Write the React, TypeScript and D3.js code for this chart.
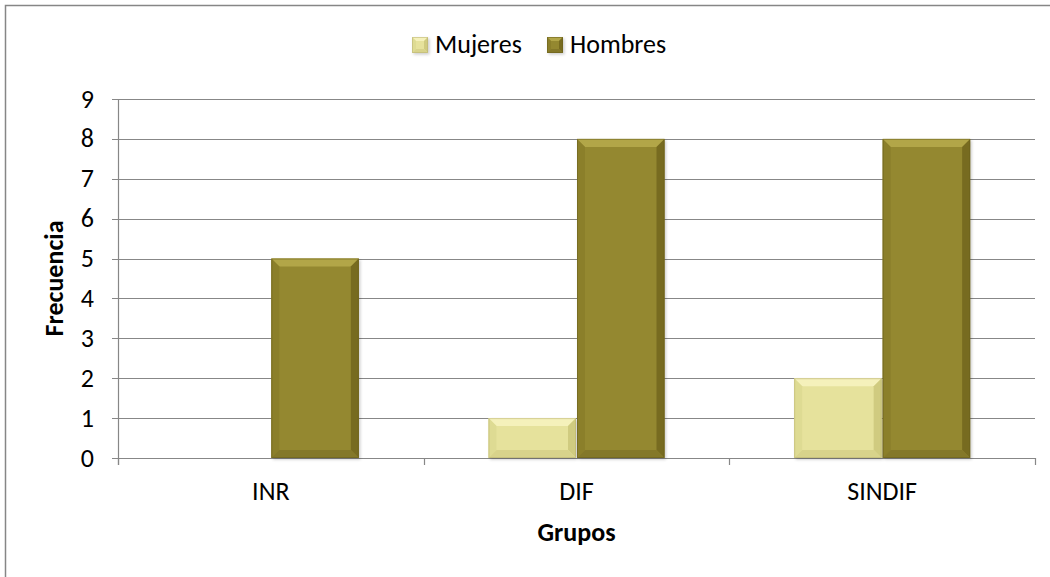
import React from "react";
import * as d3 from "d3";

const categories = ["INR", "DIF", "SINDIF"];
const seriesNames = ["Mujeres", "Hombres"];
const mujeres = [0, 1, 2];
const hombres = [5, 8, 8];
const yTicks = [0, 1, 2, 3, 4, 5, 6, 7, 8, 9];

const W = 1050;
const H = 577;
const plot = { left: 118, right: 1035, top: 99, bottom: 458 };
const FONT = "Carlito, Lato, 'Open Sans', sans-serif";
const FS = 26;

const palette: Record<string, { base: string; top: string; left: string; right: string; bottom: string; edge: string }> = {
  Mujeres: { base: "#e6e29c", top: "#f5f1bb", left: "#dedb93", right: "#d0cb80", bottom: "#d8d38b", edge: "#b9b372" },
  Hombres: { base: "#948830", top: "#b2a648", left: "#8b7f2a", right: "#776b20", bottom: "#847829", edge: "#6a5f1c" },
};

function BevelBar({ x, y, w, h, name, bevel = 8 }: { x: number; y: number; w: number; h: number; name: string; bevel?: number }) {
  if (h <= 0) return null;
  const c = palette[name];
  const b = Math.min(bevel, h / 3, w / 3);
  const x2 = x + w;
  const y2 = y + h;
  const pts = (a: number[][]) => a.map((p) => p.join(",")).join(" ");
  return (
    <g>
      <rect x={x + 1.5} y={y + 1.5} width={w} height={h} fill="#000" opacity={0.2} filter="url(#barShadow)" />
      <rect x={x} y={y} width={w} height={h} fill={c.base} />
      <polygon points={pts([[x, y], [x2, y], [x2 - b, y + b], [x + b, y + b]])} fill={c.top} />
      <polygon points={pts([[x, y], [x + b, y + b], [x + b, y2 - b], [x, y2]])} fill={c.left} />
      <polygon points={pts([[x2, y], [x2, y2], [x2 - b, y2 - b], [x2 - b, y + b]])} fill={c.right} />
      <polygon points={pts([[x, y2], [x + b, y2 - b], [x2 - b, y2 - b], [x2, y2]])} fill={c.bottom} />
      <rect x={x + 0.5} y={y + 0.5} width={w - 1} height={h - 1} fill="none" stroke={c.edge} strokeOpacity={0.55} />
    </g>
  );
}

export default function App() {
  const x0 = d3.scaleBand<string>().domain(categories).range([plot.left, plot.right]).padding(0);
  const bw = x0.bandwidth();
  const barW = 87;
  const x1 = d3
    .scaleBand<string>()
    .domain(seriesNames)
    .range([bw / 2 - barW - 1, bw / 2 + barW + 1])
    .paddingInner(2 / (2 * barW + 2));
  const y = d3.scaleLinear().domain([0, 9]).range([plot.bottom, plot.top]);

  const values: Record<string, number[]> = { Mujeres: mujeres, Hombres: hombres };
  const boundaries = [...categories.map((c) => x0(c)!), plot.right];
  const legendX = [412, 547];

  return (
    <svg width={W} height={H} style={{ position: "absolute", left: 0, top: 0 }} fontFamily={FONT}>
      <defs>
        <filter id="barShadow" x="-20%" y="-20%" width="140%" height="140%">
          <feGaussianBlur stdDeviation="1.5" />
        </filter>
      </defs>
      <rect x={0} y={0} width={W} height={H} fill="#fff" />
      <rect x={5.5} y={5.5} width={W + 20} height={H + 20} fill="none" stroke="#868686" strokeWidth={1.5} />

      {/* Legend */}
      <g>
        {seriesNames.map((s, i) => (
          <g key={s}>
            <BevelBar x={legendX[i]} y={37} w={16} h={16} name={s} bevel={4} />
            <text x={legendX[i] + 23} y={53} fontSize={FS} fill="#000">
              {s}
            </text>
          </g>
        ))}
      </g>

      {/* Gridlines */}
      {yTicks.map((t) => (
        <line key={t} x1={plot.left - 6} x2={plot.right} y1={Math.round(y(t)) + 0.5} y2={Math.round(y(t)) + 0.5} stroke="#878787" strokeWidth={1.2} />
      ))}

      {/* Y tick labels */}
      {yTicks.map((t) => (
        <text key={t} x={94} y={y(t) + 8.5} fontSize={FS} textAnchor="end" fill="#000">
          {t}
        </text>
      ))}

      {/* Axes */}
      <line x1={plot.left + 0.5} x2={plot.left + 0.5} y1={plot.top} y2={plot.bottom + 7} stroke="#878787" strokeWidth={1.2} />
      {boundaries.map((b, i) => (
        <line key={i} x1={Math.round(b) + 0.5} x2={Math.round(b) + 0.5} y1={plot.bottom} y2={plot.bottom + 7} stroke="#878787" strokeWidth={1.2} />
      ))}

      {/* Bars */}
      {categories.map((c, ci) => (
        <g key={c}>
          {seriesNames.map((s) => {
            const v = values[s][ci];
            const bx = x0(c)! + x1(s)!;
            return <BevelBar key={s} x={bx} y={y(v)} w={x1.bandwidth()} h={y(0) - y(v)} name={s} />;
          })}
        </g>
      ))}

      {/* Category labels */}
      {categories.map((c) => (
        <text key={c} x={x0(c)! + bw / 2} y={500} fontSize={FS} textAnchor="middle" fill="#000">
          {c}
        </text>
      ))}

      {/* Axis titles */}
      <text x={(plot.left + plot.right) / 2} y={541} fontSize={FS} fontWeight="bold" textAnchor="middle" fill="#000">
        Grupos
      </text>
      <text transform={`translate(63, ${(plot.top + plot.bottom) / 2}) rotate(-90)`} fontSize={FS} fontWeight="bold" textAnchor="middle" fill="#000">
        Frecuencia
      </text>
    </svg>
  );
}
